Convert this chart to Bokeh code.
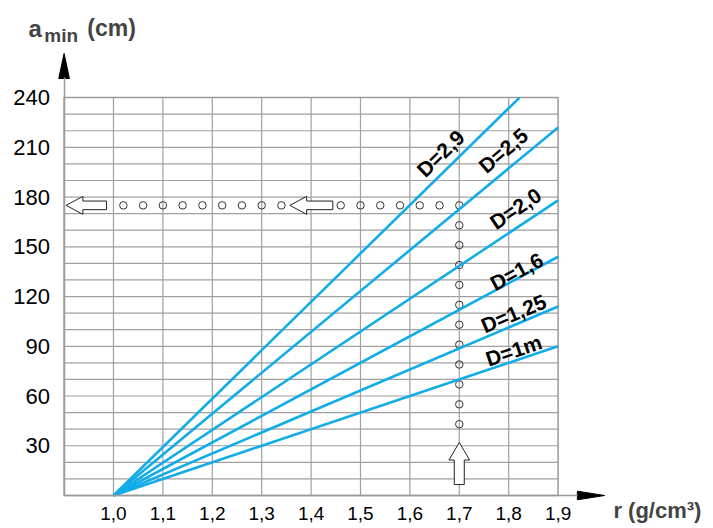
from bokeh.plotting import figure
from bokeh.models import (Range1d, FixedTicker, Label, LinearAxis,
                          CustomJSTickFormatter, ColumnDataSource)
from bokeh.core.properties import value
from bokeh.embed import file_html
from bokeh.resources import INLINE

# ---------------- data ----------------
d_labels = ["D=1m", "D=1,25", "D=1,6", "D=2,0", "D=2,5", "D=2,9"]
line_r0 = [1.0, 1.0, 1.0, 1.0, 1.0, 1.0]
line_a0 = [0, 0, 0, 0, 0, 0]
line_r1 = [1.9, 1.9, 1.9, 1.9, 1.9, 1.822]
line_a1 = [90, 114, 144, 178, 222, 240]

label_r = [1.810, 1.810, 1.816, 1.814, 1.789, 1.662]
label_a = [87.5, 109.8, 135.1, 173.1, 208.1, 206.3]
label_angle = [18.6, 22.8, 28.2, 33.9, 40.0, 44.2]

x_ticks = [1.0, 1.1, 1.2, 1.3, 1.4, 1.5, 1.6, 1.7, 1.8, 1.9]
y_ticks = [30, 60, 90, 120, 150, 180, 210, 240]
y_grid = [10, 20, 30, 40, 50, 60, 70, 80, 90, 100, 110, 120, 130, 140, 150,
          160, 170, 180, 190, 200, 210, 220, 230]
x_grid = [1.0, 1.1, 1.2, 1.3, 1.4, 1.5, 1.6, 1.7, 1.8]
r_min, r_max = 0.9, 1.9
a_min, a_max = 0, 240

# reading guide (example r = 1,7 -> a = 175)
row_r = [1.02, 1.06, 1.10, 1.14, 1.18, 1.22, 1.26, 1.30, 1.34,
         1.46, 1.50, 1.54, 1.58, 1.62, 1.66, 1.70]
row_a = [175] * len(row_r)
col_a = [163, 151, 139, 127, 115, 103, 91, 79, 67, 55, 43]
col_r = [1.70] * len(col_a)

left_arrow_tip = [0.904, 1.357]
left_arrow_end = [0.986, 1.444]
left_arrow_a = 175
up_arrow_r = 1.70
up_arrow_tip = 32
up_arrow_end = 6.6

BLUE = "#12ace8"
GRID = "#a0a0a0"
AXIS = "#9a9a9a"
FONT = "Liberation Sans"

# the frame spans the whole canvas; axes sit at fixed locations inside it
p = figure(width=713, height=528, output_backend="svg", toolbar_location=None,
           x_range=Range1d(0.7713, 2.2146), y_range=Range1d(-19.9, 298.55),
           x_axis_type=None, y_axis_type=None, min_border=0)
p.background_fill_color = "white"
p.border_fill_color = "white"
p.outline_line_color = None
p.xgrid.visible = False
p.ygrid.visible = False

# grid (drawn as segments so it stays inside the chart area)
p.segment(x0=x_grid, y0=[a_min] * len(x_grid), x1=x_grid, y1=[a_max] * len(x_grid),
          line_color=GRID, line_width=1.2)
p.segment(x0=[r_min] * len(y_grid), y0=y_grid, x1=[r_max] * len(y_grid), y1=y_grid,
          line_color=GRID, line_width=1.2)
p.quad(left=[r_min], right=[r_max], bottom=[a_min], top=[a_max], fill_color=None,
       line_color=AXIS, line_width=1.5)

# axes
xax = LinearAxis(fixed_location=a_min, bounds=(r_min, 1.94),
                 ticker=FixedTicker(ticks=x_ticks),
                 formatter=CustomJSTickFormatter(code="return tick.toFixed(1).replace('.', ',');"))
yax = LinearAxis(fixed_location=r_min, bounds=(a_min, 252),
                 ticker=FixedTicker(ticks=y_ticks))
for ax in (xax, yax):
    ax.axis_line_color = AXIS
    ax.axis_line_width = 1.5
    ax.major_tick_line_color = None
    ax.minor_tick_line_color = None
    ax.major_label_text_color = "black"
    ax.major_label_text_font = FONT
xax.major_label_text_font_size = "19px"
xax.major_label_standoff = 5
yax.major_label_text_font_size = "22px"
yax.major_label_standoff = 8
p.add_layout(xax, "below")
p.add_layout(yax, "left")

# axis arrow heads
p.patch([0.8892, 0.9, 0.9108], [251.5, 266.6, 251.5], fill_color="black", line_color="black")
p.patch([1.939, 1.994, 1.939], [-2.6, 0, 2.6], fill_color="black", line_color="black")

# reading-guide circles
p.scatter(row_r, row_a, size=7.5, fill_color=None, line_color="#333333", line_width=1)
p.scatter(col_r, col_a, size=7.5, fill_color=None, line_color="#333333", line_width=1)

# lines
p.segment(x0=line_r0, y0=line_a0, x1=line_r1, y1=line_a1, line_color=BLUE, line_width=2.6)

# open block arrows
hx, sh, hh = 0.034, 2.6, 5.4
axs, ays = [], []
for tip, end in zip(left_arrow_tip, left_arrow_end):
    b = tip + hx
    axs.append([tip, b, b, end, end, b, b])
    ays.append([left_arrow_a, left_arrow_a + hh, left_arrow_a + sh, left_arrow_a + sh,
                left_arrow_a - sh, left_arrow_a - sh, left_arrow_a - hh])
hw, sw, hl = 0.0209, 0.0101, 10.6
b = up_arrow_tip - hl
axs.append([up_arrow_r, up_arrow_r + hw, up_arrow_r + sw, up_arrow_r + sw,
            up_arrow_r - sw, up_arrow_r - sw, up_arrow_r - hw])
ays.append([up_arrow_tip, b, b, up_arrow_end, up_arrow_end, b, b])
p.patches(axs, ays, fill_color="white", line_color="#222222", line_width=1)

# line labels
src = ColumnDataSource(dict(x=label_r, y=label_a, t=d_labels, ang=label_angle))
p.text(x="x", y="y", text="t", angle="ang", angle_units="deg", source=src,
       text_align="center", text_baseline="middle", text_color="black",
       text_font=value(FONT), text_font_style="bold", text_font_size="21px")

# axis titles
p.add_layout(Label(x=0.828, y=281.7, text="a", text_font=FONT, text_font_style="bold",
                   text_font_size="24px", text_baseline="alphabetic"))
p.add_layout(Label(x=0.860, y=277.5, text="min", text_font=FONT, text_font_style="bold",
                   text_font_size="19px", text_baseline="alphabetic"))
p.add_layout(Label(x=0.947, y=281.7, text="(cm)", text_font=FONT, text_font_style="bold",
                   text_font_size="23px", text_baseline="alphabetic"))
p.add_layout(Label(x=2.012, y=-9.0, text="r (g/cm³)", text_font=FONT, text_font_style="bold",
                   text_font_size="22px", text_baseline="alphabetic"))

open("out.html", "w").write(file_html(p, INLINE))
